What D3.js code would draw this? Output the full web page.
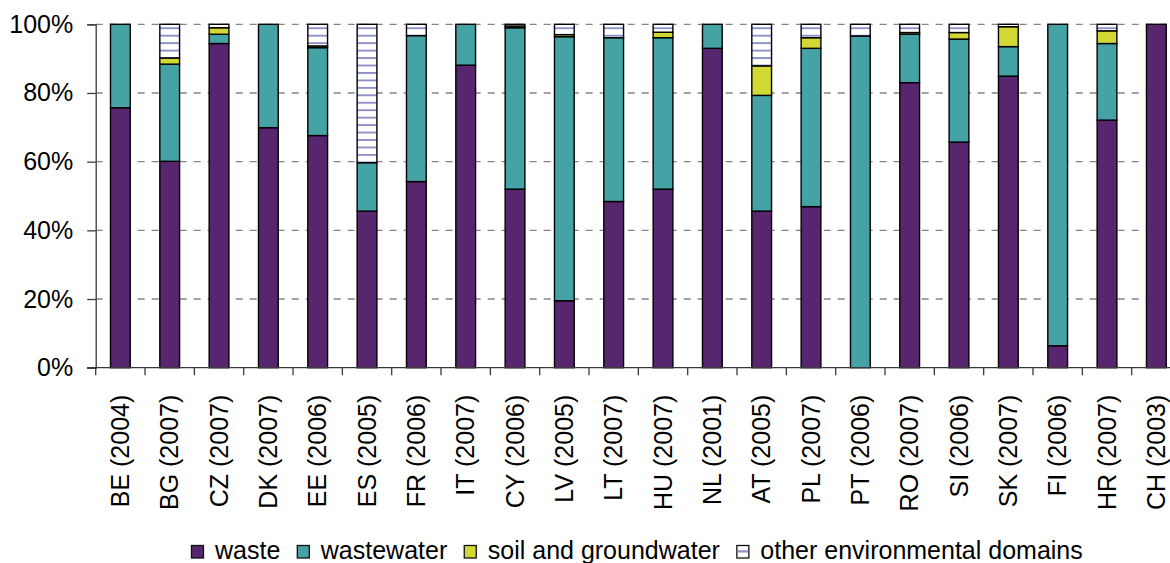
<!DOCTYPE html>
<html>
<head>
<meta charset="utf-8">
<script src="https://cdn.jsdelivr.net/npm/d3@7/dist/d3.min.js"></script>
<style>
  html, body { margin: 0; padding: 0; background: #fff; }
  svg { display: block; }
  text { font-family: "Liberation Sans", Arial, sans-serif; fill: #000; }
</style>
</head>
<body>
<svg id="chart" width="1170" height="563"></svg>
<script>
// Share of each environmental domain, by country (reference year)
const categories = ["BE (2004)", "BG (2007)", "CZ (2007)", "DK (2007)", "EE (2006)", "ES (2005)",
  "FR (2006)", "IT (2007)", "CY (2006)", "LV (2005)", "LT (2007)", "HU (2007)", "NL (2001)",
  "AT (2005)", "PL (2007)", "PT (2006)", "RO (2007)", "SI (2006)", "SK (2007)", "FI (2006)",
  "HR (2007)", "CH (2003)"];

const waste      = [0.757, 0.601, 0.944, 0.699, 0.676, 0.456, 0.542, 0.881, 0.520, 0.195, 0.484,
                    0.520, 0.930, 0.456, 0.469, 0.000, 0.830, 0.657, 0.849, 0.064, 0.721, 1.000];
const wastewater = [0.243, 0.283, 0.027, 0.301, 0.256, 0.141, 0.425, 0.119, 0.470, 0.769, 0.477,
                    0.441, 0.070, 0.337, 0.461, 0.966, 0.141, 0.300, 0.086, 0.936, 0.223, 0.000];
const soil       = [0.000, 0.018, 0.019, 0.000, 0.005, 0.000, 0.000, 0.000, 0.005, 0.006, 0.000,
                    0.016, 0.000, 0.086, 0.031, 0.000, 0.005, 0.019, 0.058, 0.000, 0.037, 0.000];
const other      = [0.000, 0.098, 0.010, 0.000, 0.063, 0.403, 0.033, 0.000, 0.005, 0.030, 0.039,
                    0.023, 0.000, 0.121, 0.039, 0.034, 0.024, 0.024, 0.007, 0.000, 0.019, 0.000];

const seriesNames = ["waste", "wastewater", "soil and groundwater", "other environmental domains"];
const yTicks = [0, 0.2, 0.4, 0.6, 0.8, 1.0];

const rows = categories.map((c, i) => ({
  cat: c,
  "waste": waste[i],
  "wastewater": wastewater[i],
  "soil and groundwater": soil[i],
  "other environmental domains": other[i]
}));

const svg = d3.select("#chart");
const FONT = 25;

const plotLeft = 95.7, plotRight = 1181, plotTop = 24.3, plotBottom = 367.7;

const x = d3.scaleBand().domain(categories).range([plotLeft, plotRight])
  .paddingInner(0.6).paddingOuter(0.3);
const y = d3.scaleLinear().domain([0, 1]).range([plotBottom, plotTop]);

// striped fill for "other environmental domains"
const defs = svg.append("defs");
const pat = defs.append("pattern")
  .attr("id", "stripes")
  .attr("patternUnits", "userSpaceOnUse")
  .attr("x", 0).attr("y", plotTop + 3)
  .attr("width", 20).attr("height", 7.45);
pat.append("rect").attr("width", 20).attr("height", 7.45).attr("fill", "#fff");
pat.append("rect").attr("y", 0).attr("width", 20).attr("height", 1.9).attr("fill", "#8c92c8");

const fills = {
  "waste": "#58266e",
  "wastewater": "#45a3a5",
  "soil and groundwater": "#d2d834",
  "other environmental domains": "url(#stripes)"
};

// dashed gridlines
svg.append("g").selectAll("line")
  .data(yTicks.filter(d => d > 0))
  .join("line")
  .attr("x1", plotLeft).attr("x2", 1170)
  .attr("y1", d => y(d)).attr("y2", d => y(d))
  .attr("stroke", "#858585").attr("stroke-width", 1.3)
  .attr("stroke-dasharray", "7,7");

// stacked bars
const stacked = d3.stack().keys(seriesNames)(rows);
svg.append("g").selectAll("g")
  .data(stacked)
  .join("g")
  .attr("fill", d => fills[d.key])
  .selectAll("rect")
  .data(d => d.filter(s => s[1] - s[0] > 0))
  .join("rect")
  .attr("x", d => x(d.data.cat))
  .attr("width", x.bandwidth())
  .attr("y", d => y(d[1]))
  .attr("height", d => y(d[0]) - y(d[1]))
  .attr("stroke", "#000").attr("stroke-width", 1.4);

// y axis
const yAxis = d3.axisLeft(y).tickValues(yTicks)
  .tickFormat(d3.format(".0%")).tickSize(8.5).tickPadding(14);
const gy = svg.append("g").attr("transform", `translate(${plotLeft},0)`).call(yAxis);
gy.select(".domain").attr("stroke", "#3a3a3a").attr("stroke-width", 1.3);
gy.selectAll(".tick line").attr("stroke", "#3a3a3a").attr("stroke-width", 1.3);
gy.selectAll(".tick text")
  .attr("font-size", FONT)
  .attr("font-family", "'Liberation Sans', Arial, sans-serif")
  .attr("fill", "#000");

// x axis line and band-boundary ticks
const xb = d3.scaleLinear().domain([0, categories.length]).range([plotLeft, plotRight]);
const gx = svg.append("g");
gx.append("line")
  .attr("x1", plotLeft - 8.5).attr("x2", 1170)
  .attr("y1", plotBottom).attr("y2", plotBottom)
  .attr("stroke", "#3a3a3a").attr("stroke-width", 1.3);
gx.selectAll("line.tk")
  .data(d3.range(categories.length + 1))
  .join("line").attr("class", "tk")
  .attr("x1", d => xb(d)).attr("x2", d => xb(d))
  .attr("y1", plotBottom).attr("y2", plotBottom + 7.5)
  .attr("stroke", "#3a3a3a").attr("stroke-width", 1.3);

// rotated category labels
gx.selectAll("text")
  .data(categories)
  .join("text")
  .attr("transform", d => `translate(${x(d) + x.bandwidth() / 2},${plotBottom + 27}) rotate(-90)`)
  .attr("text-anchor", "end")
  .attr("dy", "0.35em")
  .attr("font-size", FONT)
  .text(d => d);

// legend
const lg = svg.append("g").attr("transform", "translate(191,0)");
let cx = 0;
seriesNames.forEach((name) => {
  const item = lg.append("g").attr("transform", `translate(${cx},0)`);
  item.append("rect")
    .attr("x", 0.5).attr("y", 545.5).attr("width", 12).attr("height", 12.5)
    .attr("fill", name === "other environmental domains" ? "#fff" : fills[name])
    .attr("stroke", "#111").attr("stroke-width", 1.3);
  if (name === "other environmental domains") {
    item.append("rect").attr("x", 1.5).attr("y", 550.3).attr("width", 10).attr("height", 2.2)
      .attr("fill", "#8c92c8");
  }
  const t = item.append("text")
    .attr("x", 24).attr("y", 558.5)
    .attr("font-size", FONT)
    .text(name);
  cx += 24 + t.node().getComputedTextLength() + 16.5;
});
</script>
</body>
</html>
